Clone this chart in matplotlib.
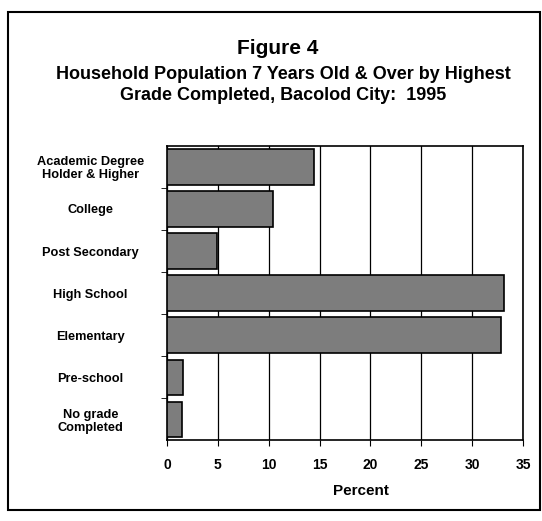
import matplotlib
matplotlib.use('Agg')
import matplotlib.pyplot as plt
from matplotlib.patches import Rectangle

plt.rcParams['font.family'] = ['Liberation Sans', 'DejaVu Sans']
plt.rcParams['font.weight'] = 'bold'

# data (top to bottom)
categories = ['Academic Degree\nHolder & Higher', 'College', 'Post Secondary',
              'High School', 'Elementary', 'Pre-school', 'No grade\nCompleted']
percent = [14.5, 10.4, 4.9, 33.1, 32.8, 1.6, 1.45]
x_ticks = [0, 5, 10, 15, 20, 25, 30, 35]

fig = plt.figure(figsize=(5.42, 5.21), dpi=100)
ax = fig.add_axes([0.308, 0.155, 0.657, 0.565])

# outer frame of the scanned figure
fig.patches.append(Rectangle((0.014, 0.022), 0.982, 0.955, transform=fig.transFigure,
                             fill=False, edgecolor='black', linewidth=1.5))

ypos = list(range(len(categories)))
ax.barh(ypos, percent, height=0.84, color='#7d7d7d', edgecolor='black',
        linewidth=1.2, zorder=3)

ax.set_xlim(0, 35)
ax.set_ylim(len(categories) - 0.5, -0.5)
ax.set_xticks(x_ticks)
ax.set_xticklabels([str(t) for t in x_ticks], fontsize=10, fontweight='bold')
ax.grid(axis='x', color='black', linewidth=0.9, zorder=0)

ax.set_yticks(ypos)
ax.set_yticklabels(categories, fontsize=9.2, fontweight='bold', ha='center',
                   multialignment='center', linespacing=1.1)
ax.tick_params(axis='y', length=0, pad=55)
ax.set_yticks([y + 0.5 for y in ypos[:-1]], minor=True)
ax.tick_params(axis='y', which='minor', length=4, direction='out')
ax.tick_params(axis='x', length=4, direction='out', pad=9)

for s in ax.spines.values():
    s.set_linewidth(1.2)

ax.set_xlabel('Percent', fontsize=11, fontweight='bold')
ax.xaxis.set_label_coords(0.545, -0.15)

fig.text(0.513, 0.906, 'Figure 4', ha='center', va='center', fontsize=15, fontweight='bold')
fig.text(0.522, 0.836, 'Household Population 7 Years Old & Over by Highest\n'
         'Grade Completed, Bacolod City:  1995', ha='center', va='center',
         fontsize=13, fontweight='bold', linespacing=1.3)

fig.savefig('out.png', dpi=100)
